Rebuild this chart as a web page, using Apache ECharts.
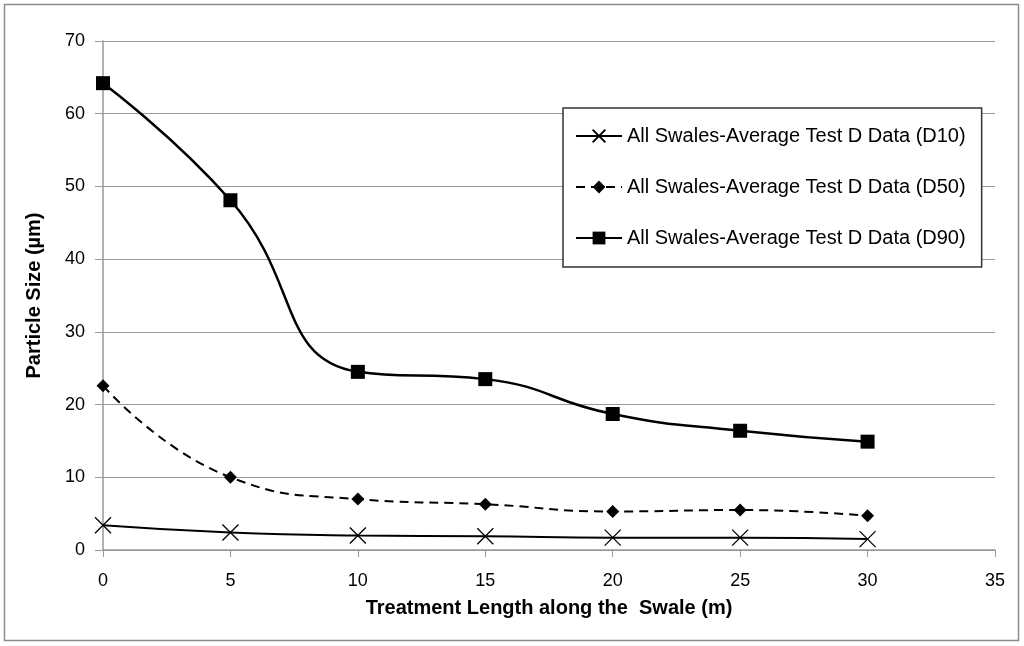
<!DOCTYPE html>
<html><head><meta charset="utf-8">
<script src="https://cdn.jsdelivr.net/npm/echarts@6/dist/echarts.min.js"></script>
<style>html,body{margin:0;padding:0;background:#fff}#c{width:1024px;height:646px}</style>
</head><body><div id="c"></div>
<script>
const xValues = [0, 5, 10, 15, 20, 25, 30];
const d10 = [3.4, 2.4, 2.0, 1.9, 1.7, 1.7, 1.5];
const d50 = [22.6, 10.0, 7.0, 6.3, 5.3, 5.5, 4.7];
const d90 = [64.2, 48.1, 24.5, 23.5, 18.7, 16.4, 14.9];
const names = ['All Swales-Average Test D Data (D10)', 'All Swales-Average Test D Data (D50)', 'All Swales-Average Test D Data (D90)'];
const pair = a => a.map((v, i) => [xValues[i], v]);
const crossPath = 'path://M0,0L10,10M10,0L0,10';
const font = 'Liberation Sans, Arial, sans-serif';
const chart = echarts.init(document.getElementById('c'));
chart.setOption({
  animation: false,
  textStyle: { fontFamily: font },
  graphic: [{ type: 'rect', shape: { x: 4.5, y: 4.5, width: 1014, height: 636 }, style: { fill: 'none', stroke: '#8c8c8c', lineWidth: 1.5 }, silent: true }],
  grid: { left: 103, right: 29, top: 41, bottom: 96 },
  xAxis: {
    type: 'value', min: 0, max: 35, interval: 5,
    axisLine: { lineStyle: { color: '#999', width: 1.5 } },
    axisTick: { show: true, length: 7, lineStyle: { color: '#999' } },
    axisLabel: { color: '#000', fontSize: 18, margin: 22, fontFamily: font },
    splitLine: { show: false },
    name: 'Treatment Length along the  Swale (m)', nameLocation: 'middle', nameGap: 48,
    nameTextStyle: { color: '#000', fontSize: 20, fontWeight: 'bold', fontFamily: font }
  },
  yAxis: {
    type: 'value', min: 0, max: 70, interval: 10,
    axisLine: { show: true, lineStyle: { color: '#999', width: 1.5 } },
    axisTick: { show: true, length: 8, lineStyle: { color: '#999' } },
    axisLabel: { color: '#000', fontSize: 18, margin: 18, fontFamily: font },
    splitLine: { lineStyle: { color: '#999', width: 1 } },
    name: 'Particle Size (µm)', nameLocation: 'middle', nameGap: 59,
    nameTextStyle: { color: '#000', fontSize: 20, fontWeight: 'bold', fontFamily: font }
  },
  legend: {
    orient: 'vertical', left: 563, top: 108, width: 418,
    padding: [18, 16, 19, 12], itemGap: 31, itemWidth: 46, itemHeight: 16,
    backgroundColor: '#fff', borderColor: '#333', borderWidth: 1.5,
    textStyle: { color: '#000', fontSize: 20, fontFamily: font, padding: [0,0,0,0] },
    data: names
  },
  series: [
    { name: names[0], type: 'line', data: pair(d10), smooth: 0.5, symbol: crossPath, symbolSize: 16,
      lineStyle: { color: '#000', width: 2 }, itemStyle: { color: '#000', borderColor: '#000', borderWidth: 1.3 } },
    { name: names[1], type: 'line', data: pair(d50), smooth: 0.5, symbol: 'diamond', symbolSize: 13,
      lineStyle: { color: '#000', width: 2, type: [9, 6] }, itemStyle: { color: '#000' } },
    { name: names[2], type: 'line', data: pair(d90), smooth: 0.5, symbol: 'rect', symbolSize: 14,
      lineStyle: { color: '#000', width: 2.5 }, itemStyle: { color: '#000' } }
  ]
});
</script></body></html>
